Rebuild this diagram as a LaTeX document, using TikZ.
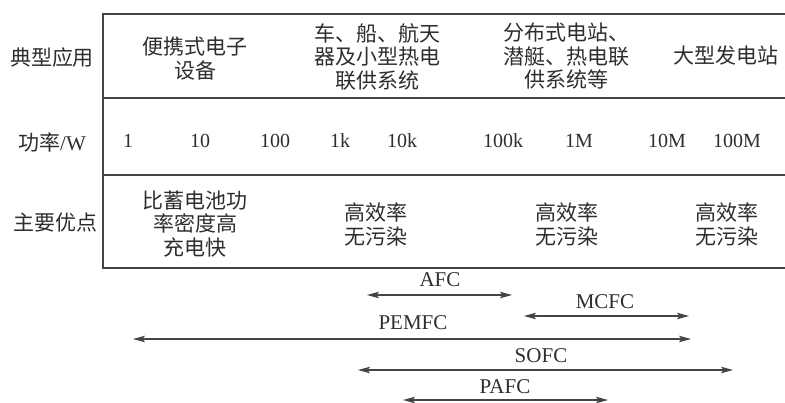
\documentclass[tikz,border=0pt]{standalone}
\usepackage{fontspec}
\setmainfont{Liberation Serif}
\newfontfamily\cjk{Noto Sans CJK SC}
\usetikzlibrary{arrows.meta}
\definecolor{linec}{HTML}{444444}
\definecolor{txt}{HTML}{2E2E2E}
\begin{document}
\begin{tikzpicture}[x=1pt,y=-1pt,
  frame/.style={line width=1.3pt, draw=linec},
  cn/.style={font=\cjk\fontsize{21}{23.5}\selectfont, align=center, inner sep=0pt, text=txt},
  num/.style={font=\fontsize{20}{24}\selectfont, inner sep=0pt, text=txt},
  lbl/.style={font=\fontsize{21}{24}\selectfont, inner sep=0pt, text=txt},
  rng/.style={line width=1.1pt, draw=linec, {Stealth[length=12pt,width=6.5pt,inset=2.5pt]}-{Stealth[length=12pt,width=6.5pt,inset=2.5pt]}}
]
\fill[white] (0,0) rectangle (785,402);
\useasboundingbox (0,0) rectangle (785,402);

% table frame
\draw[frame] (785,14) -- (103,14) -- (103,268) -- (785,268);
\draw[frame] (103,98) -- (785,98);
\draw[frame] (103,175) -- (785,175);

% row headers
\node[cn] (h1) at (52,58) {典型应用};
\node[cn] (h2) at (52,142) {功率\textrm{/W}};
\node[cn] (h3) at (55,223) {主要优点};

% applications
\node[cn] (a1) at (195,58.5) {便携式电子\\设备};
\node[cn] (a2) at (377,56.5) {车、船、航天\\器及小型热电\\联供系统};
\node[cn] (a3) at (566,56.5) {分布式电站、\\潜艇、热电联\\供系统等};
\node[cn] (a4) at (726,56) {大型发电站};

% power scale
\node[num] (p1) at (128,141) {1};
\node[num] (p2) at (200,141) {10};
\node[num] (p3) at (275,141) {100};
\node[num] (p4) at (340,141) {1k};
\node[num] (p5) at (402,141) {10k};
\node[num] (p6) at (503,141) {100k};
\node[num] (p7) at (579,141) {1M};
\node[num] (p8) at (667,141) {10M};
\node[num] (p9) at (737,141) {100M};

% advantages
\node[cn] (b1) at (195,224) {比蓄电池功\\率密度高\\充电快};
\node[cn] (b2) at (376,224.5) {高效率\\无污染};
\node[cn] (b3) at (567,224.5) {高效率\\无污染};
\node[cn] (b4) at (727,224.5) {高效率\\无污染};

% ranges
\node[lbl] (afc) at (440,280) {AFC};
\coordinate (afcL) at (367,295);
\coordinate (afcR) at (512,295);
\draw[rng] (afcL) -- (afcR);

\node[lbl] (mcfc) at (605,302) {MCFC};
\coordinate (mcfcL) at (524,316);
\coordinate (mcfcR) at (689,316);
\draw[rng] (mcfcL) -- (mcfcR);

\node[lbl] (pemfc) at (413,323) {PEMFC};
\coordinate (pemL) at (133,339);
\coordinate (pemR) at (691,339);
\draw[rng] (pemL) -- (pemR);

\node[lbl] (sofc) at (541,356) {SOFC};
\coordinate (sofcL) at (358,370);
\coordinate (sofcR) at (733,370);
\draw[rng] (sofcL) -- (sofcR);

\node[lbl] (pafc) at (505,387) {PAFC};
\coordinate (pafcL) at (403,400);
\coordinate (pafcR) at (608,400);
\draw[rng] (pafcL) -- (pafcR);
\end{tikzpicture}
\end{document}
